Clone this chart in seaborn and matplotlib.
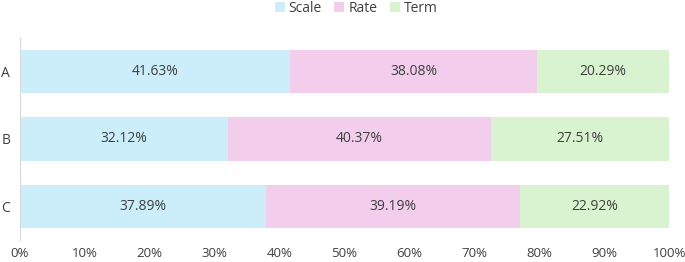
import matplotlib
matplotlib.use("Agg")
import matplotlib.pyplot as plt
import numpy as np
import pandas as pd
import seaborn as sns
from matplotlib.patches import Patch
from matplotlib.ticker import PercentFormatter

categories = ["A", "B", "C"]
scale = [41.63, 32.12, 37.89]
rate = [38.08, 40.37, 39.19]
term = [20.29, 27.51, 22.92]

series_names = ["Scale", "Rate", "Term"]
colors = ["#CCEEFB", "#F2CDEC", "#D9F2D0"]

sns.set_style("white")
plt.rcParams["font.family"] = ["Open Sans", "DejaVu Sans"]

df = pd.DataFrame({"cat": categories, "Scale": scale, "Rate": rate, "Term": term})
df["c1"] = df["Scale"]
df["c2"] = df["Scale"] + df["Rate"]
df["c3"] = df["c2"] + df["Term"]

fig = plt.figure(figsize=(6.85, 2.62), dpi=100)
ax = fig.add_axes([0.029, 0.084, 0.948, 0.771])

# stacked by overdrawing cumulative totals, back to front
for col, color in zip(["c3", "c2", "c1"], colors[::-1]):
    sns.barplot(data=df, y="cat", x=col, orient="h", color=color,
                width=0.64, saturation=1, ax=ax, linewidth=0)

starts = np.zeros(len(categories))
for vals in [scale, rate, term]:
    vals = np.array(vals)
    for i, v in enumerate(vals):
        ax.text(starts[i] + v / 2, i, f"{v:.2f}%", ha="center", va="center",
                fontsize=10, color="#404040")
    starts += vals

ax.set_xlim(0, 100)
ax.set_ylim(2.5, -0.5)
ax.set_xticks(np.arange(0, 101, 10))
ax.xaxis.set_major_formatter(PercentFormatter(decimals=0))
ax.set_xlabel("")
ax.set_ylabel("")
ax.tick_params(axis="both", length=0, labelsize=10, colors="#404040")
ax.tick_params(axis="x", pad=5, labelsize=9.5)
ax.tick_params(axis="y", pad=7)
for s in ["top", "right", "bottom"]:
    ax.spines[s].set_visible(False)
ax.spines["left"].set_color("#D9D9D9")
ax.spines["left"].set_linewidth(0.8)

handles = [Patch(facecolor=c, edgecolor="none", label=n) for n, c in zip(series_names, colors)]
fig.legend(handles=handles, loc="upper center", bbox_to_anchor=(0.52, 1.045), ncol=3,
           frameon=False, fontsize=10, handlelength=0.7, handleheight=0.7,
           handletextpad=0.3, columnspacing=0.9, labelcolor="#404040")

fig.savefig("out.png", dpi=100)
